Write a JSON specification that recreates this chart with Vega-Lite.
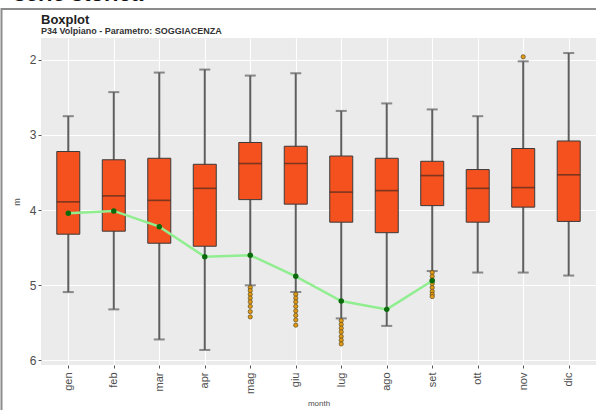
{
  "$schema": "https://vega.github.io/schema/vega-lite/v6.json",
  "width": 555,
  "height": 327,
  "autosize": {"type": "none"},
  "padding": {"left": 41, "top": 38, "right": 0, "bottom": 45},
  "background": "white",
  "title": {
    "text": "Boxplot",
    "subtitle": "P34 Volpiano - Parametro: SOGGIACENZA",
    "anchor": "start",
    "frame": "group",
    "font": "Liberation Sans",
    "fontSize": 13,
    "fontWeight": "bold",
    "color": "#222222",
    "subtitleFont": "Liberation Sans",
    "subtitleFontSize": 9,
    "subtitleFontWeight": "bold",
    "subtitleColor": "#333333",
    "subtitlePadding": 0,
    "offset": -54
  },
  "config": {
    "view": {"fill": "#EBEBEB", "stroke": null},
    "legend": {"strokeWidth": 2},
    "axis": {
      "labelFont": "Liberation Sans",
      "titleFont": "Liberation Sans",
      "labelColor": "#4D4D4D",
      "titleColor": "#4D4D4D",
      "titleFontWeight": "normal",
      "tickColor": "#555555",
      "tickSize": 3,
      "domain": false,
      "gridColor": "#FFFFFF",
      "gridWidth": 1.1
    }
  },
  "datasets": {
    "stats": [
      {"month": "gen", "lo": 2.75, "q1": 3.22, "median": 3.89, "q3": 4.32, "hi": 5.09},
      {"month": "feb", "lo": 2.43, "q1": 3.33, "median": 3.81, "q3": 4.28, "hi": 5.32},
      {"month": "mar", "lo": 2.17, "q1": 3.31, "median": 3.87, "q3": 4.44, "hi": 5.72},
      {"month": "apr", "lo": 2.13, "q1": 3.39, "median": 3.71, "q3": 4.48, "hi": 5.86},
      {"month": "mag", "lo": 2.21, "q1": 3.10, "median": 3.38, "q3": 3.86, "hi": 5.00},
      {"month": "giu", "lo": 2.18, "q1": 3.15, "median": 3.38, "q3": 3.92, "hi": 5.09},
      {"month": "lug", "lo": 2.68, "q1": 3.28, "median": 3.76, "q3": 4.16, "hi": 5.44},
      {"month": "ago", "lo": 2.58, "q1": 3.31, "median": 3.74, "q3": 4.30, "hi": 5.54},
      {"month": "set", "lo": 2.66, "q1": 3.35, "median": 3.54, "q3": 3.94, "hi": 4.81},
      {"month": "ott", "lo": 2.75, "q1": 3.46, "median": 3.71, "q3": 4.16, "hi": 4.83},
      {"month": "nov", "lo": 2.02, "q1": 3.18, "median": 3.70, "q3": 3.96, "hi": 4.83},
      {"month": "dic", "lo": 1.91, "q1": 3.08, "median": 3.53, "q3": 4.15, "hi": 4.87}
    ],
    "outliers": [
      {"month": "mag", "v": 5.03}, {"month": "mag", "v": 5.07}, {"month": "mag", "v": 5.12},
      {"month": "mag", "v": 5.17}, {"month": "mag", "v": 5.22}, {"month": "mag", "v": 5.28},
      {"month": "mag", "v": 5.35}, {"month": "mag", "v": 5.42},
      {"month": "giu", "v": 5.12}, {"month": "giu", "v": 5.17}, {"month": "giu", "v": 5.22},
      {"month": "giu", "v": 5.28}, {"month": "giu", "v": 5.34}, {"month": "giu", "v": 5.40},
      {"month": "giu", "v": 5.46}, {"month": "giu", "v": 5.53},
      {"month": "lug", "v": 5.47}, {"month": "lug", "v": 5.52}, {"month": "lug", "v": 5.57},
      {"month": "lug", "v": 5.62}, {"month": "lug", "v": 5.68}, {"month": "lug", "v": 5.73},
      {"month": "lug", "v": 5.78},
      {"month": "set", "v": 4.83}, {"month": "set", "v": 4.88}, {"month": "set", "v": 4.93},
      {"month": "set", "v": 4.98}, {"month": "set", "v": 5.03}, {"month": "set", "v": 5.08},
      {"month": "set", "v": 5.12}, {"month": "set", "v": 5.15},
      {"month": "nov", "v": 1.96}
    ],
    "means": [
      {"month": "gen", "mean": 4.04},
      {"month": "feb", "mean": 4.01},
      {"month": "mar", "mean": 4.22},
      {"month": "apr", "mean": 4.62},
      {"month": "mag", "mean": 4.60},
      {"month": "giu", "mean": 4.88},
      {"month": "lug", "mean": 5.21},
      {"month": "ago", "mean": 5.32},
      {"month": "set", "mean": 4.94}
    ]
  },
  "layer": [
    {
      "data": {"name": "stats"},
      "mark": {"type": "rule", "color": "#5E5E5E", "strokeWidth": 2},
      "encoding": {
        "x": {
          "field": "month", "type": "nominal",
          "scale": {"type": "point", "padding": 0.6, "domain": ["gen", "feb", "mar", "apr", "mag", "giu", "lug", "ago", "set", "ott", "nov", "dic"]},
          "axis": {
            "orient": "top", "domain": false, "ticks": false, "labels": false, "grid": false,
            "title": "serie storica", "titleFontSize": 22, "titleFontWeight": "bold", "titleColor": "#111111",
            "titleAnchor": "start", "titleAlign": "left", "titleBaseline": "alphabetic",
            "titleX": -28, "titleY": -38
          }
        },
        "y": {
          "field": "lo", "type": "quantitative",
          "scale": {"domain": [1.71, 6.06], "reverse": true, "nice": false, "zero": false},
          "axis": {
            "orient": "left", "title": "m", "titleFontSize": 9, "titlePadding": 8,
            "values": [2, 3, 4, 5, 6], "format": "d", "labelFontSize": 12, "labelPadding": 2, "grid": true
          }
        },
        "y2": {"field": "hi"}
      }
    },
    {
      "data": {"name": "stats"},
      "mark": {"type": "tick", "color": "#5E5E5E", "size": 11, "thickness": 2},
      "encoding": {
        "x": {"field": "month", "type": "nominal", "axis": null},
        "y": {"field": "lo", "type": "quantitative"}
      }
    },
    {
      "data": {"name": "stats"},
      "mark": {"type": "tick", "color": "#5E5E5E", "size": 11, "thickness": 2},
      "encoding": {
        "x": {"field": "month", "type": "nominal", "axis": null},
        "y": {"field": "hi", "type": "quantitative"}
      }
    },
    {
      "data": {"name": "stats"},
      "mark": {"type": "bar", "size": 23, "fill": "#F4511E", "stroke": "#3A3A3A", "strokeWidth": 1},
      "encoding": {
        "x": {
          "field": "month", "type": "nominal",
          "axis": {
            "orient": "bottom", "title": "month", "titleFontSize": 8,
            "titleY": 40, "titleBaseline": "alphabetic",
            "labelAngle": 270, "labelAlign": "right", "labelBaseline": "middle",
            "labelFontSize": 11, "labelPadding": 4, "grid": true
          }
        },
        "y": {"field": "q1", "type": "quantitative"},
        "y2": {"field": "q3"}
      }
    },
    {
      "data": {"name": "stats"},
      "mark": {"type": "tick", "color": "#4A2A1C", "size": 23, "thickness": 1.6},
      "encoding": {
        "x": {"field": "month", "type": "nominal", "axis": null},
        "y": {"field": "median", "type": "quantitative"}
      }
    },
    {
      "data": {"name": "outliers"},
      "mark": {"type": "point", "filled": true, "fill": "#E39A12", "stroke": "#5A4A1E", "strokeWidth": 0.7, "size": 18, "opacity": 1},
      "encoding": {
        "x": {"field": "month", "type": "nominal", "axis": null},
        "y": {"field": "v", "type": "quantitative"}
      }
    },
    {
      "data": {"name": "means"},
      "mark": {"type": "line", "strokeWidth": 2.5},
      "encoding": {
        "x": {"field": "month", "type": "nominal", "axis": null, "sort": null},
        "y": {"field": "mean", "type": "quantitative"},
        "color": {
          "datum": "media", "type": "nominal",
          "scale": {"range": ["#90EE90"]},
          "legend": {
            "orient": "none", "legendX": -39.5, "legendY": -29, "padding": 400,
            "strokeColor": "#8C8C8C", "title": null,
            "symbolOpacity": 0, "labelOpacity": 0
          }
        }
      }
    },
    {
      "data": {"name": "means"},
      "mark": {"type": "point", "filled": true, "color": "#0B6B0B", "size": 30, "opacity": 1},
      "encoding": {
        "x": {"field": "month", "type": "nominal", "axis": null},
        "y": {"field": "mean", "type": "quantitative"}
      }
    }
  ]
}
